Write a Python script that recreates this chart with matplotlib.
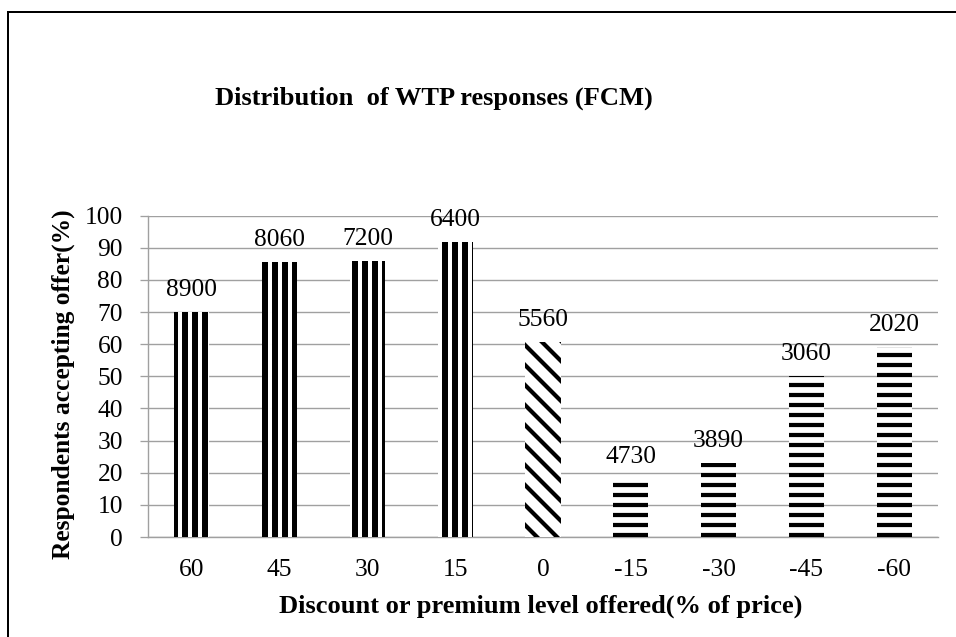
import matplotlib
matplotlib.use("Agg")
import matplotlib.pyplot as plt
from matplotlib.lines import Line2D

categories = ["60", "45", "30", "15", "0", "-15", "-30", "-45", "-60"]
values = [70, 85.7, 86, 91.8, 60.6, 18, 23, 50, 59]
labels = ["8900", "8060", "7200", "6400", "5560", "4730", "3890", "3060", "2020"]
hatches = ["||", "||", "||", "||", "\\\\", "--", "--", "--", "--"]

plt.rcParams['font.family'] = ['Liberation Serif', 'DejaVu Serif']

DPI = 120
W, H = 956, 637
fig = plt.figure(figsize=(W/DPI, H/DPI), dpi=DPI)
ax = fig.add_axes([148/W, 1-537/H, 790/W, (537-215.7)/H])

def px(p):
    return p*72/DPI

x = list(range(len(categories)))
for i, (v, h) in enumerate(zip(values, hatches)):
    lw = px(6) if "|" in h else px(4.2)
    with plt.rc_context({'hatch.linewidth': lw, 'hatch.color': 'black'}):
        ax.bar(x[i], v, width=0.4, color='white', edgecolor='black', linewidth=0,
               hatch=h, zorder=3)
    ax.annotate(labels[i], (x[i], v), xytext=(0, px(11)), textcoords='offset points',
                ha='center', va='bottom', fontsize=px(25.5), zorder=4)

ax.set_xlim(-0.5, len(categories)-0.5)
ax.set_ylim(0, 100)
ax.set_yticks(range(0, 101, 10))
ax.set_xticks(x)
ax.set_xticklabels(categories)
ax.tick_params(axis='y', length=px(8), width=px(1.3), color='#a0a0a0',
               labelsize=px(25.5), pad=px(17))
ax.tick_params(axis='x', length=0, labelsize=px(25.5), pad=px(22))
ax.grid(axis='y', color='#a0a0a0', linewidth=px(1.4), zorder=0)
for s in ['top', 'right']:
    ax.spines[s].set_visible(False)
for s in ['left', 'bottom']:
    ax.spines[s].set_color('#a0a0a0')
    ax.spines[s].set_linewidth(px(1.4))

fig.text(541/W, 1-606/H, "Discount or premium level offered(% of price)",
         ha='center', va='center', fontsize=px(26.5), fontweight='bold')
fig.text(63/W, 1-384/H, "Respondents accepting offer(%)", rotation=90,
         ha='center', va='center', fontsize=px(25.5), fontweight='bold')
fig.text(434/W, 1-98/H, "Distribution  of WTP responses (FCM)", ha='center',
         va='center', fontsize=px(26.5), fontweight='bold')

fig.add_artist(Line2D([8/W, 8/W], [0, 1-12/H], color='black', linewidth=px(2),
                      transform=fig.transFigure))
fig.add_artist(Line2D([8/W, 1], [1-12/H, 1-12/H], color='black', linewidth=px(2),
                      transform=fig.transFigure))

fig.savefig("out.png", dpi=DPI)
